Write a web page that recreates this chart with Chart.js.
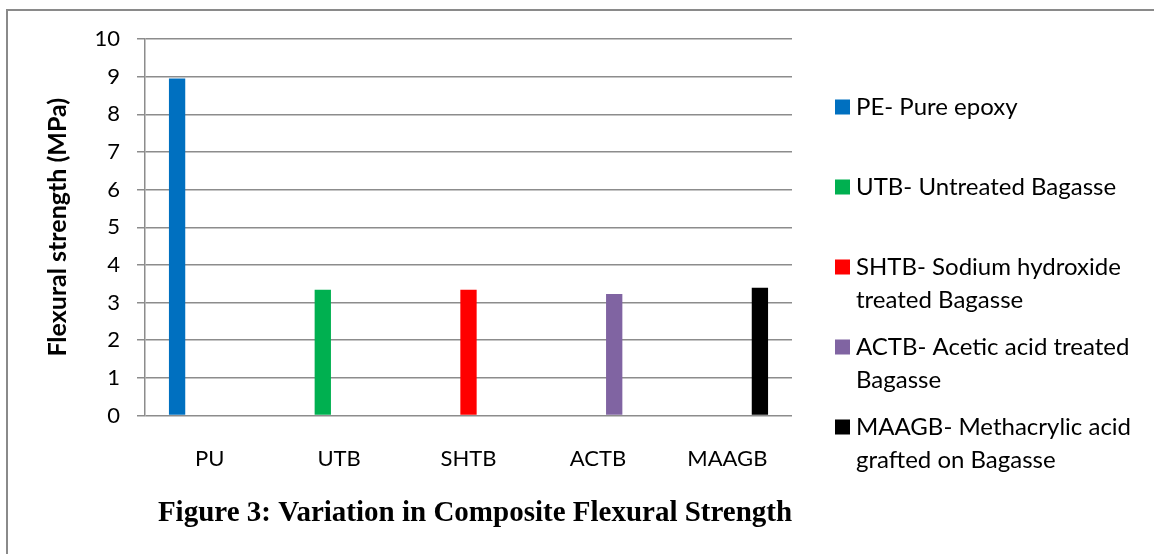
<!DOCTYPE html>
<html>
<head>
<meta charset="utf-8">
<script src="https://cdn.jsdelivr.net/npm/chart.js@4.4.0/dist/chart.umd.min.js"></script>
<style>
  html, body { margin: 0; padding: 0; background: #fff; overflow: hidden; }
  #frame { position: absolute; left: 6px; top: 9px; width: 2000px; height: 1000px; border: 2px solid #8a8a8a; }
  #wrap { position: absolute; left: 0; top: 0; width: 1154px; height: 554px; }
</style>
</head>
<body>
<div id="frame"></div>
<div id="wrap"><canvas id="Chart" width="1154" height="554"></canvas></div>
<script>
const categories = ["PU", "UTB", "SHTB", "ACTB", "MAAGB"];
const seriesNames = [
  "PE- Pure epoxy",
  "UTB- Untreated Bagasse",
  "SHTB- Sodium hydroxide treated Bagasse",
  "ACTB- Acetic acid treated Bagasse",
  "MAAGB- Methacrylic acid grafted on Bagasse",
];
// legend text as it is wrapped in the picture
const legendLines = [
  ["PE- Pure epoxy"],
  ["UTB- Untreated Bagasse"],
  ["SHTB- Sodium hydroxide", "treated Bagasse"],
  ["ACTB- Acetic acid treated", "Bagasse"],
  ["MAAGB- Methacrylic acid", "grafted on Bagasse"],
];
const strength = [8.95, 3.34, 3.34, 3.23, 3.39];
const barColors = ["#0070c0", "#00b050", "#ff0000", "#8064a2", "#000000"];
const yTicks = [0, 1, 2, 3, 4, 5, 6, 7, 8, 9, 10];
const figTitle = "Figure 3: Variation in Composite Flexural Strength";

const FONT = "Lato, 'Open Sans', sans-serif";

// each series only has a value in its own category
const datasets = seriesNames.map((name, i) => {
  return {
    label: name,
    data: categories.map((c, j) => (j === i ? strength[i] : null)),
    backgroundColor: barColors[i],
    borderWidth: 0,
    categoryPercentage: 0.63,
    barPercentage: 1.0,
  };
});

const extras = {
  id: "extras",
  afterDraw(chart) {
    const ctx = chart.ctx;
    ctx.save();
    // legend on the right
    ctx.font = "24px " + FONT;
    ctx.textBaseline = "middle";
    ctx.textAlign = "left";
    legendLines.forEach((lines, i) => {
      const y = 107 + i * 80;
      ctx.fillStyle = barColors[i];
      ctx.fillRect(835, y - 7.5, 15, 15);
      ctx.fillStyle = "#000";
      lines.forEach((t, j) => ctx.fillText(t, 856, y + j * 33));
    });
    // caption under the chart
    ctx.font = "bold 29px 'Liberation Serif', 'Times New Roman', serif";
    ctx.textAlign = "center";
    ctx.textBaseline = "alphabetic";
    ctx.fillText(figTitle, 475, 521);
    ctx.restore();
  },
};

const ctx = document.getElementById("Chart").getContext("2d");
const myChart = new Chart(ctx, {
  type: "bar",
  data: { labels: categories, datasets: datasets },
  options: {
    responsive: false,
    animation: false,
    layout: { padding: { left: 0, top: 39, right: 362, bottom: 0 } },
    scales: {
      x: {
        grid: { display: false, drawTicks: false },
        border: { display: false },
        ticks: { color: "#000", font: { family: FONT, size: 22 }, padding: 30 },
        afterFit: (scale) => { scale.height = 138.5; },
      },
      y: {
        min: 0,
        max: 10,
        afterBuildTicks: (scale) => { scale.ticks = yTicks.map((v) => ({ value: v })); },
        grid: { color: "#8c8c8c", lineWidth: 1.5, tickLength: 8 },
        border: { color: "#8c8c8c", width: 1.5 },
        ticks: { color: "#000", font: { family: FONT, size: 22 }, padding: 17 },
        title: {
          display: true,
          text: "Flexural strength (MPa)",
          color: "#000",
          font: { family: FONT, size: 25, weight: "bold", lineHeight: 1.2 },
          padding: { top: 43, bottom: 0 },
        },
        afterFit: (scale) => { scale.width = 145; },
      },
    },
    plugins: {
      legend: { display: false },
      tooltip: { enabled: false },
    },
  },
  plugins: [extras],
});
</script>
</body>
</html>
